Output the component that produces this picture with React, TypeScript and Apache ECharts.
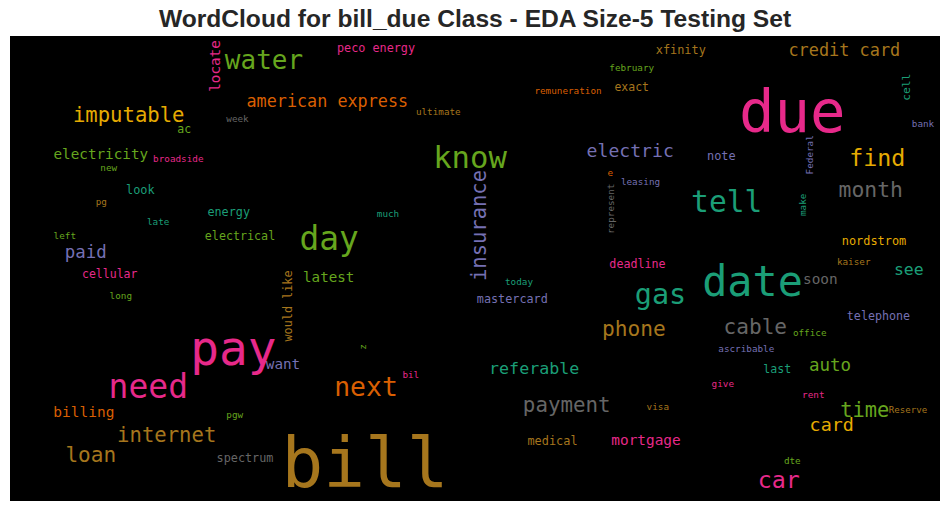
import React, { useEffect, useRef } from "react";
import * as echarts from "echarts";

const TITLE = "WordCloud for bill_due Class - EDA Size-5 Testing Set";

// Dark2 colormap
const PALETTE = ["#1b9e77", "#d95f02", "#7570b3", "#e7298a", "#66a61e", "#e6ab02", "#a6761d", "#666666"];

const words = [
  "water", "locate", "american express", "imputable", "week", "ac", "electricity", "broadside", "new", "look",
  "pg", "energy", "late", "left", "electrical", "paid", "day", "peco energy", "february", "remuneration",
  "exact", "ultimate", "know", "insurance", "electric", "e", "leasing", "represent", "much", "deadline",
  "xfinity", "credit card", "due", "cell", "bank", "note", "find", "Federal", "month", "tell",
  "make", "nordstrom", "kaiser", "see", "date", "soon", "cellular", "long", "would like", "latest",
  "pay", "want", "need", "billing", "pgw", "internet", "loan", "spectrum", "bill", "today",
  "mastercard", "z", "bil", "next", "referable", "payment", "medical", "mortgage", "phone", "gas",
  "cable", "telephone", "office", "ascribable", "last", "auto", "give", "rent", "visa", "time",
  "Reserve", "card", "dte", "car",
];

const wordX = [
  254, 204.6, 317.3, 118.7, 227.5, 174.2, 90.8, 168.3, 98.7, 130.3,
  91.3, 218.7, 148.2, 54.8, 230, 75.8, 319.2, 366, 621.7, 558,
  621.7, 428.3, 460, 468.9, 620.2, 600.3, 630.5, 600.9, 378, 627.5,
  670.8, 834.3, 782.2, 896.3, 913, 711.3, 867.3, 799.6, 860.8, 716.7,
  792.2, 864, 843.7, 898.8, 742.5, 810.3, 99.7, 110.8, 278.1, 318.7,
  223.3, 273, 138.3, 73.8, 224.7, 156.7, 80.8, 235, 355, 509,
  502.3, 352.5, 400.8, 356, 524.2, 556.7, 542.5, 636, 623.8, 650.5,
  745.3, 868.5, 799.7, 736.3, 767.3, 820, 712.8, 803.3, 647.8, 854.7,
  898, 821.7, 782.3, 768.8,
];

const wordY = [
  23.7, 30, 65.2, 79.2, 82.9, 92.9, 118, 122.2, 131.2, 153.8,
  165.2, 176.1, 185.2, 199.2, 200.4, 216, 202.4, 11.8, 31.6, 54.2,
  50.5, 75.6, 121.6, 189.5, 114, 136.2, 145.2, 172.8, 177.9, 228.4,
  14.4, 13.7, 75.5, 51.2, 87.6, 120.4, 121.6, 118.8, 153.6, 165.9,
  168.8, 205.1, 225.2, 233.6, 245.2, 242.5, 237.9, 259.2, 270, 241,
  312.5, 328.3, 350.8, 375.9, 378.2, 398.9, 418.7, 422.4, 426.8, 245.9,
  263.4, 311, 338.6, 350.3, 331.8, 368.8, 405.1, 404.2, 292.7, 258.9,
  290.3, 280.1, 296.6, 312.6, 332.9, 328.9, 347.6, 358.2, 370.9, 373.9,
  373.6, 388.6, 424.2, 443.6,
];

const wordSize = [
  26, 14.3, 16.8, 20.6, 9.3, 11.5, 14.3, 9.3, 9.3, 11.9,
  9.3, 11.8, 9.3, 9.3, 11.7, 17.4, 32.9, 11.8, 9.3, 9.3,
  11.5, 9.3, 30.6, 20.5, 18.1, 9.3, 9.3, 9.3, 9.3, 11.7,
  11.9, 16.9, 59, 11.3, 9.3, 11.9, 23.3, 9.3, 21.4, 29.6,
  9.3, 11.9, 9.3, 16.5, 41.8, 14.4, 11.5, 9.3, 11.8, 14.2,
  47.8, 14.3, 33, 14.5, 9.3, 20.6, 21.1, 11.8, 69.4, 9.3,
  11.8, 9.3, 9.3, 26.4, 16.7, 20.8, 11.9, 14.4, 21.2, 28.5,
  21.1, 11.7, 9.3, 9.3, 11.6, 17.5, 9.3, 9.3, 9.3, 20.4,
  9.1, 18.4, 9.3, 23.3,
];

const wordColor = [
  4, 3, 1, 5, 7, 4, 4, 3, 4, 0,
  6, 0, 0, 4, 4, 2, 4, 3, 4, 1,
  6, 6, 4, 2, 2, 1, 2, 7, 0, 3,
  6, 6, 3, 0, 2, 2, 5, 2, 7, 0,
  0, 5, 6, 0, 0, 7, 3, 4, 6, 4,
  3, 2, 3, 1, 4, 6, 6, 7, 6, 0,
  2, 4, 3, 1, 0, 7, 6, 3, 6, 0,
  7, 2, 4, 2, 0, 4, 3, 3, 6, 4,
  6, 5, 4, 3,
];

const verticalWords = ["locate", "insurance", "represent", "cell", "Federal", "make", "would like", "z"];

export default function App() {
  const ref = useRef<HTMLDivElement>(null);
  useEffect(() => {
    if (!ref.current) return;
    const chart = echarts.init(ref.current, null, { renderer: "svg" });
    const data = words.map((w, i) => ({
      value: [wordX[i], wordY[i]],
      name: w,
      label: {
        show: true,
        formatter: w,
        fontSize: wordSize[i],
        color: PALETTE[wordColor[i]],
        rotate: verticalWords.includes(w) ? 90 : 0,
      },
    }));
    chart.setOption({
      animation: false,
      backgroundColor: "#ffffff",
      title: {
        text: TITLE,
        left: "center",
        top: 6,
        padding: 0,
        textStyle: {
          fontFamily: "Liberation Sans, Arial, sans-serif",
          fontWeight: "bold",
          fontSize: 24.6,
          color: "#262626",
        },
      },
      grid: {
        left: 10,
        top: 36,
        width: 930,
        height: 465,
        show: true,
        backgroundColor: "#000000",
        borderWidth: 0,
      },
      xAxis: { type: "value", min: 0, max: 930, show: false },
      yAxis: { type: "value", min: 0, max: 465, inverse: true, show: false },
      series: [
        {
          type: "scatter",
          symbol: "circle",
          symbolSize: 1,
          itemStyle: { color: "rgba(0,0,0,0)", opacity: 1 },
          silent: true,
          label: {
            show: true,
            position: "inside",
            align: "center",
            verticalAlign: "middle",
            fontFamily: "DejaVu Sans Mono, monospace",
          },
          emphasis: { disabled: true },
          data,
        },
      ],
    });
    return () => chart.dispose();
  }, []);
  return (
    <div
      ref={ref}
      style={{ position: "fixed", left: 0, top: 0, width: 950, height: 511 }}
    />
  );
}
